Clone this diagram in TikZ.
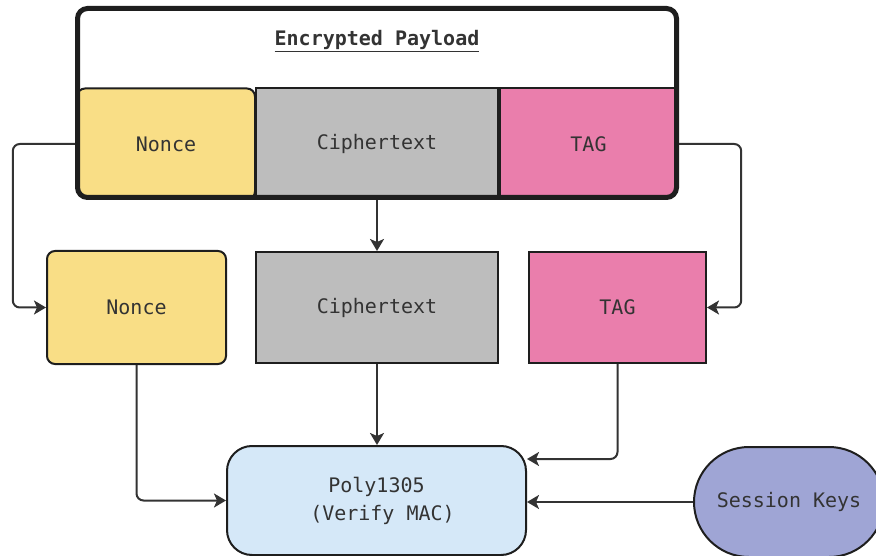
\documentclass[tikz,border=0pt]{standalone}
\usepackage{fontspec}
\setmonofont{DejaVu Sans Mono}
\usetikzlibrary{arrows.meta}
\definecolor{nonceY}{HTML}{F9DE86}
\definecolor{cipherG}{HTML}{BDBDBD}
\definecolor{tagP}{HTML}{EA7EAC}
\definecolor{polyB}{HTML}{D5E8F8}
\definecolor{keyV}{HTML}{9FA5D5}
\definecolor{ink}{HTML}{333333}
\definecolor{edge}{HTML}{1E1E1E}
\tikzset{
  lbl/.style={font=\ttfamily\fontsize{20}{28}\selectfont, text=ink, align=center, inner sep=0pt},
  box/.style={lbl, draw=edge, line width=2pt},
  conn/.style={draw=ink, line width=2pt, rounded corners=7pt, -{Stealth[length=12pt,width=14pt,inset=3pt]}},
}
\begin{document}
\begin{tikzpicture}[x=1pt,y=-1pt]
\useasboundingbox (0,0) rectangle (876,556);
\clip (0,0) rectangle (876,556);
% outer payload box
\node[inner sep=0pt, minimum width=604pt, minimum height=194pt, fill=white, rounded corners=10pt] (outer) at (377,103) {};
\node[lbl, font=\ttfamily\bfseries\fontsize{20}{28}\selectfont] (title) at (377,41) {\underline{Encrypted Payload}};
\begin{scope}
\clip[rounded corners=10pt] (77.5,8.5) rectangle (676.5,197.5);
\node[box, fill=nonceY, rounded corners=8pt, minimum width=178pt, minimum height=111pt] (tn) at (166,144) {Nonce};
\node[box, fill=cipherG, minimum width=242pt, minimum height=111pt] (tc) at (377,144) {Ciphertext};
\node[box, fill=tagP, minimum width=177pt, minimum height=111pt] (tt) at (588.5,144) {TAG};
\end{scope}
\draw[edge, line width=5pt, rounded corners=10pt] (77.5,8.5) rectangle (676.5,197.5);
% middle row
\node[box, fill=nonceY, rounded corners=8pt, minimum width=179pt, minimum height=113pt] (mn) at (136.5,307.5) {Nonce};
\node[box, fill=cipherG, minimum width=242pt, minimum height=111pt] (mc) at (377,307.5) {Ciphertext};
\node[box, fill=tagP, minimum width=177pt, minimum height=111pt] (mt) at (617.5,307.5) {TAG};
% bottom row
\node[box, fill=polyB, rounded corners=25pt, minimum width=299pt, minimum height=109pt] (poly) at (376.5,500.5) {Poly1305\\\hspace*{12pt}(Verify MAC)};
\node[box, fill=keyV, rounded corners=55pt, minimum width=190pt, minimum height=110pt] (sk) at (789,502) {Session Keys};
% connectors
\draw[conn] (tn.west -| outer.west) -- ++(-62,0) |- (mn.west);
\draw[conn] (tt.east -| outer.east) -- ++(62,0) |- (mt.east);
\draw[conn] (tc.south |- outer.south) -- (mc.north);
\draw[conn] (mn.south) |- (poly.west);
\draw[conn] (mc.south) -- (mc.south |- poly.north);
\draw[conn] (mt.south) |- ([yshift=-14pt]poly.north east);
\draw[conn] (sk.west) -- (sk.west -| poly.east);
\end{tikzpicture}
\end{document}
